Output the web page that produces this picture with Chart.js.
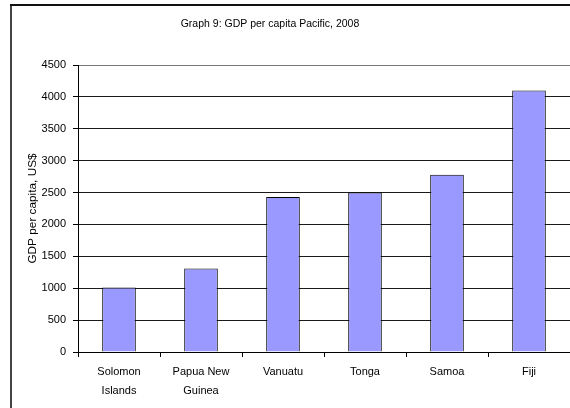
<!DOCTYPE html>
<html>
<head>
<meta charset="utf-8">
<script src="https://cdn.jsdelivr.net/npm/chart.js@4/dist/chart.umd.min.js"></script>
<style>
  html, body { margin: 0; padding: 0; background: #fff; }
  #wrap { position: relative; width: 570px; height: 408px; }
</style>
</head>
<body>
<div id="wrap"><canvas id="c" width="570" height="408"></canvas></div>
<script>
// Countries (multi-line labels as arrays)
const countries = [['Solomon', 'Islands'], ['Papua New', 'Guinea'], 'Vanuatu', 'Tonga', 'Samoa', 'Fiji'];
// GDP per capita, US$, 2008
const gdpPerCapita = [1010, 1310, 2430, 2500, 2780, 4100];
// Value axis ticks
const yTicks = [0, 500, 1000, 1500, 2000, 2500, 3000, 3500, 4000, 4500];
const chartTitle = 'Graph 9: GDP per capita Pacific, 2008';
const yAxisTitle = 'GDP per capita, US$';

const FONT = '"Liberation Sans", Arial, sans-serif';

// Page frame and chart heading
const frameAndTitle = {
  id: 'frameAndTitle',
  beforeDraw(chart) {
    const ctx = chart.ctx;
    ctx.save();
    ctx.fillStyle = '#fff';
    ctx.fillRect(0, 0, chart.width, chart.height);
    ctx.fillStyle = '#444';
    ctx.fillRect(10, 4, 2, chart.height - 4);
    ctx.fillStyle = '#111';
    ctx.fillRect(10, 4, chart.width - 10, 2);
    ctx.restore();
  },
  afterDraw(chart) {
    const ctx = chart.ctx;
    ctx.save();
    ctx.font = '10.5px ' + FONT;
    ctx.fillStyle = '#000';
    ctx.textAlign = 'center';
    ctx.textBaseline = 'middle';
    ctx.fillText(chartTitle, 270, 24.5);
    ctx.restore();
  }
};

new Chart(document.getElementById('c'), {
  type: 'bar',
  data: {
    labels: countries,
    datasets: [{
      data: gdpPerCapita,
      backgroundColor: '#9999FF',
      borderColor: '#000',
      borderWidth: 1,
      borderSkipped: 'bottom',
      categoryPercentage: 1.0,
      barPercentage: 0.41
    }]
  },
  options: {
    responsive: false,
    devicePixelRatio: 1,
    animation: false,
    layout: { padding: { top: 65, left: 0, right: 0, bottom: 0 } },
    plugins: {
      legend: { display: false },
      title: { display: false },
      tooltip: { enabled: false }
    },
    scales: {
      x: {
        afterFit(scale) { scale.height = 56; },
        grid: {
          offset: true,
          drawOnChartArea: false,
          drawTicks: true,
          tickLength: 5,
          color: '#000',
          tickColor: '#000'
        },
        border: { display: true, color: '#000', width: 1 },
        ticks: {
          color: '#000',
          padding: 6,
          maxRotation: 0,
          autoSkip: false,
          font: { family: FONT, size: 11, lineHeight: 1.7 }
        }
      },
      y: {
        min: 0,
        max: 4500,
        afterFit(scale) { scale.width = 78; },
        afterBuildTicks(scale) { scale.ticks = yTicks.map(v => ({ value: v })); },
        grid: {
          drawTicks: true,
          tickLength: 5,
          color: ctx => (ctx.tick && ctx.tick.value === 4500) ? '#777' : '#1a1a1a',
          tickColor: '#000',
          lineWidth: 1
        },
        border: { display: true, color: '#000', width: 1 },
        ticks: {
          color: '#000',
          padding: 7,
          callback: v => String(v),
          font: { family: FONT, size: 11 }
        },
        title: {
          display: true,
          text: yAxisTitle,
          color: '#000',
          padding: { top: 26, bottom: 0 },
          font: { family: FONT, size: 11.8 }
        }
      }
    }
  },
  plugins: [frameAndTitle]
});
</script>
</body>
</html>
